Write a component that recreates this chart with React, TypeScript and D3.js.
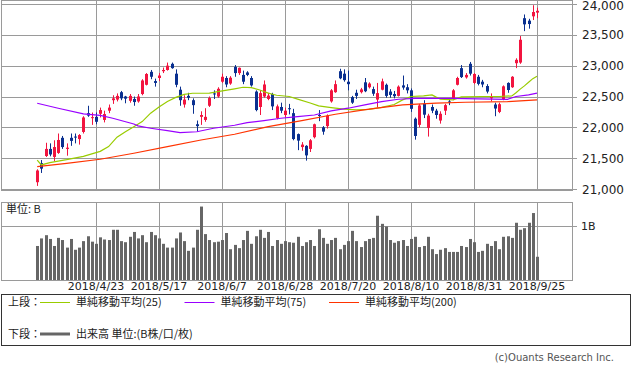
import React from 'react'
import * as d3 from 'd3'

// 2018/4/3 .. 2018/9/25, daily candles (index 0..119)
const opens = [
  21110, 21420, 21535, 21650, 21520, 21585, 21830, 21650, 21830, 21850,
  21810, 21925, 22230, 22150, 22170, 22220, 22120, 22270, 22440, 22450,
  22570, 22500, 22430, 22460, 22420, 22540, 22690, 22900, 22750, 22800,
  22910, 22930, 23030, 22870, 22610, 22370, 22510, 22440, 22050, 22170,
  22120, 22350, 22550, 22500, 22740, 22800, 22710, 22980, 22880, 22850,
  22890, 22800, 22580, 22330, 22500, 22460, 22540, 22150, 22330, 22200,
  22310, 22230, 21890, 21680, 21700, 21650, 21840, 22200, 22000, 22020,
  22420, 22570, 22910, 22870, 22740, 22490, 22560, 22570, 22730, 22650,
  22620, 22450, 22610, 22690, 22580, 22540, 22510, 22680, 22650, 22600,
  22140, 22040, 22380, 21990, 22330, 22270, 22110, 22270, 22420, 22470,
  22690, 22960, 22810, 23030, 22720, 22820, 22740, 22670, 22470, 22370,
  22250, 22460, 22720, 22650, 23040, 23050, 23770, 23730, 23800, 23860,
]
const highs = [
  21320, 21470, 21750, 21740, 21790, 21900, 21860, 21740, 21900, 21900,
  21890, 22180, 22350, 22240, 22240, 22320, 22270, 22370, 22520, 22550,
  22590, 22510, 22540, 22500, 22540, 22780, 22880, 22930, 22790, 22880,
  22970, 23050, 23050, 22940, 22660, 22520, 22560, 22470, 22110, 22260,
  22310, 22500, 22600, 22650, 22870, 22830, 22830, 23010, 22970, 22920,
  22910, 22830, 22600, 22600, 22760, 22560, 22560, 22370, 22400, 22320,
  22380, 22300, 21900, 21760, 21710, 21810, 22060, 22280, 22020, 22210,
  22620, 22760, 22950, 22940, 22920, 22510, 22610, 22640, 22800, 22730,
  22660, 22720, 22790, 22710, 22620, 22590, 22680, 22840, 22700, 22630,
  22160, 22380, 22440, 22220, 22370, 22300, 22260, 22380, 22470, 22620,
  22820, 23010, 22880, 23060, 22880, 22850, 22770, 22700, 22550, 22400,
  22400, 22680, 22730, 22830, 23120, 23480, 23830, 23760, 23980, 23940,
]
const lows = [
  21050, 21260, 21520, 21530, 21450, 21570, 21650, 21540, 21700, 21740,
  21720, 21900, 22170, 22040, 22050, 22160, 22080, 22230, 22380, 22420,
  22440, 22390, 22400, 22350, 22400, 22520, 22680, 22780, 22660, 22750,
  22880, 22920, 22950, 22650, 22350, 22320, 22440, 22220, 21930, 22040,
  22090, 22330, 22460, 22480, 22720, 22650, 22690, 22820, 22850, 22700,
  22830, 22660, 22260, 22200, 22480, 22440, 22280, 22130, 22230, 22160,
  22210, 21790, 21630, 21620, 21460, 21600, 21820, 22100, 21880, 21980,
  22400, 22560, 22780, 22740, 22600, 22380, 22460, 22550, 22570, 22630,
  22510, 22320, 22600, 22480, 22480, 22470, 22500, 22610, 22550, 22250,
  21800, 22000, 22150, 21850, 22230, 22140, 22060, 22200, 22360, 22440,
  22680, 22800, 22790, 22840, 22700, 22680, 22650, 22550, 22420, 22180,
  22230, 22440, 22560, 22640, 22960, 23030, 23560, 23600, 23740, 23770,
]
const closes = [
  21300, 21330, 21650, 21560, 21680, 21795, 21680, 21670, 21780, 21840,
  21875, 22160, 22190, 22165, 22090, 22280, 22215, 22320, 22470, 22510,
  22470, 22465, 22510, 22410, 22500, 22760, 22865, 22820, 22720, 22840,
  22930, 23000, 22960, 22690, 22440, 22450, 22480, 22360, 22020, 22200,
  22170, 22475, 22540, 22625, 22820, 22695, 22805, 22880, 22965, 22740,
  22850, 22680, 22280, 22555, 22695, 22515, 22340, 22340, 22270, 22270,
  22305, 21810, 21785, 21720, 21545, 21790, 22050, 22195, 21930, 22190,
  22600, 22700, 22795, 22765, 22700, 22400, 22510, 22615, 22585, 22710,
  22545, 22555, 22745, 22510, 22525, 22505, 22660, 22645, 22600, 22300,
  21860, 22355, 22205, 22190, 22270, 22200, 22220, 22360, 22410, 22600,
  22800, 22815, 22850, 22870, 22865, 22705, 22695, 22580, 22490, 22305,
  22375, 22665, 22605, 22820, 23095, 23420, 23670, 23675, 23870, 23890,
]
// 出来高 (B株)
const volumes = [
  0.63, 0.77, 0.83, 0.76, 0.63, 0.78, 0.74, 0.60, 0.76, 0.56,
  0.60, 0.72, 0.81, 0.71, 0.67, 0.79, 0.75, 0.74, 0.93, 0.93,
  0.72, 0.70, 0.80, 0.89, 0.77, 0.83, 0.70, 0.89, 0.83, 0.77,
  0.67, 0.60, 0.60, 0.77, 0.88, 0.72, 0.54, 0.60, 0.93, 1.36,
  0.85, 0.74, 0.70, 0.71, 0.74, 0.87, 0.57, 0.65, 0.59, 0.74,
  0.91, 0.67, 0.81, 0.93, 0.78, 0.89, 0.63, 0.74, 0.67, 0.72,
  0.70, 0.69, 0.80, 0.63, 0.70, 0.74, 0.63, 0.94, 0.78, 0.67,
  0.74, 0.78, 0.57, 0.65, 0.72, 0.91, 0.72, 0.61, 0.72, 0.76,
  0.78, 1.19, 1.04, 0.99, 0.74, 0.69, 0.72, 0.74, 0.63, 0.76,
  0.80, 0.61, 0.63, 0.80, 0.57, 0.48, 0.56, 0.59, 0.52, 0.52,
  0.52, 0.63, 0.61, 0.76, 0.70, 0.52, 0.54, 0.67, 0.63, 0.72,
  0.57, 0.80, 0.81, 0.78, 1.06, 0.93, 0.96, 1.06, 1.24, 0.43,
]

// moving averages at selected candle indices
const ma25Idx = [0, 1, 3, 7, 11, 15, 17, 19, 21, 23, 25, 27, 29, 31, 33, 35, 37, 41, 43, 47, 49, 51, 53, 55, 57, 60, 62, 65, 67, 70, 73, 76, 79, 82, 85, 87, 89, 92, 94, 95, 96, 99, 101, 106, 110, 113, 114, 115, 116, 117, 118, 119]
const ma25Val = [21470, 21390, 21427, 21475, 21530, 21610, 21687, 21840, 21930, 22010, 22093, 22230, 22330, 22420, 22485, 22535, 22553, 22555, 22580, 22625, 22650, 22645, 22605, 22555, 22520, 22500, 22457, 22395, 22347, 22320, 22294, 22282, 22290, 22325, 22370, 22445, 22500, 22510, 22526, 22490, 22456, 22445, 22494, 22500, 22500, 22510, 22560, 22620, 22672, 22730, 22790, 22830]
const ma75Idx = [0, 5, 11, 15, 18, 23, 24, 27, 31, 34, 38, 42, 47, 50, 54, 58, 62, 66, 70, 74, 78, 82, 86, 90, 99, 105, 112, 114, 117, 119]
const ma75Val = [22390, 22310, 22218, 22195, 22147, 22055, 22023, 21985, 21947, 21915, 21928, 21985, 22034, 22076, 22109, 22147, 22174, 22200, 22266, 22310, 22364, 22417, 22455, 22471, 22471, 22460, 22455, 22500, 22526, 22555]
const ma200Idx = [0, 7, 15, 23, 31, 39, 47, 55, 63, 71, 79, 87, 95, 102, 112, 119]
const ma200Val = [21362, 21417, 21482, 21580, 21687, 21795, 21888, 22011, 22109, 22212, 22294, 22364, 22391, 22407, 22417, 22445]

const tickIdx = [14, 29, 44, 59, 74, 89, 104, 119]
const tickLabels = ['2018/4/23', '2018/5/17', '2018/6/7', '2018/6/28', '2018/7/20', '2018/8/10', '2018/8/31', '2018/9/25']
const priceTicks = [21000, 21500, 22000, 22500, 23000, 23500, 24000]

const UP = '#f2143f'
const DOWN = '#0a3090'
const GRID = '#9a9a9a'
const NUM_FONT = '"DejaVu Sans", sans-serif'
const JP_FONT = '"Noto Sans CJK JP", sans-serif'

const App: React.FC = () => {
  const width = 633
  const height = 370
  const left = 1
  const right = 572

  const x = d3.scaleLinear().domain([0, 119]).range([37.2, 537])
  const y = d3.scaleLinear().domain([21000, 24000]).range([189, 4])
  const yv = d3.scaleLinear().domain([0, 1]).range([280, 226])

  const px = (i: number) => Math.round(x(i)) + 0.5
  const fmt = d3.format(',')

  const maLine = (idx: number[], vals: number[]) =>
    d3.line<number>()
      .x((_, k) => x(idx[k]))
      .y(d => y(d))(vals) || ''

  const mas = [
    { idx: ma25Idx, val: ma25Val, color: '#99cc00', label: '単純移動平均(25)' },
    { idx: ma75Idx, val: ma75Val, color: '#9900ff', label: '単純移動平均(75)' },
    { idx: ma200Idx, val: ma200Val, color: '#ff3300', label: '単純移動平均(200)' },
  ]

  return (
    <div style={{ position: 'absolute', left: 0, top: 0 }}>
      <svg width={width} height={height} style={{ display: 'block', background: '#fff' }}>
        {/* price panel */}
        <rect x={left + 0.5} y={0.5} width={right - left} height={190} fill="none" stroke={GRID} />
        {priceTicks.map(p => (
          <g key={p}>
            <line x1={left} x2={right + 5} y1={Math.round(y(p)) + 0.5} y2={Math.round(y(p)) + 0.5} stroke={GRID} strokeWidth={1} />
            <text x={582} y={Math.max(10, y(p) + 4.5)} fontSize={12} fontFamily={NUM_FONT} fill="#222">{fmt(p)}</text>
          </g>
        ))}
        {tickIdx.map(i => (
          <line key={i} x1={px(i)} x2={px(i)} y1={0} y2={191} stroke={GRID} />
        ))}
        <line x1={left} x2={right} y1={190.5} y2={190.5} stroke={GRID} />

        {/* candles */}
        {closes.map((c, i) => {
          const o = opens[i]
          const col = c >= o ? UP : DOWN
          const top = y(Math.max(o, c))
          const h = Math.max(1, y(Math.min(o, c)) - top)
          return (
            <g key={i}>
              <line x1={px(i)} x2={px(i)} y1={y(highs[i])} y2={y(lows[i])} stroke={col} strokeWidth={1} />
              <rect x={px(i) - 1.5} y={top} width={3} height={h} fill={col} />
            </g>
          )
        })}

        {/* moving averages */}
        {mas.map(m => (
          <path key={m.label} d={maLine(m.idx, m.val)} fill="none" stroke={m.color} strokeWidth={1.2} />
        ))}

        {/* volume panel */}
        <rect x={left + 0.5} y={202.5} width={right - left} height={78} fill="none" stroke={GRID} />
        <line x1={left} x2={right + 5} y1={Math.round(yv(1)) + 0.5} y2={Math.round(yv(1)) + 0.5} stroke={GRID} />
        {tickIdx.map(i => (
          <line key={i} x1={px(i)} x2={px(i)} y1={203} y2={280} stroke={GRID} />
        ))}
        {volumes.map((v, i) => (
          <rect key={i} x={Math.round(x(i)) - 1} y={yv(v)} width={3} height={yv(0) - yv(v)} fill="#666" />
        ))}
        <text x={6} y={213} fontSize={11} fontFamily={JP_FONT} fill="#222">単位: B</text>
        <text x={581} y={230} fontSize={11} fontFamily={NUM_FONT} fill="#222">1B</text>

        {tickIdx.map((i, k) => (
          <text key={i} x={x(i)} y={290} fontSize={11} fontFamily={NUM_FONT} textAnchor="middle" fill="#222">{tickLabels[k]}</text>
        ))}

        {/* legend */}
        <rect x={1.5} y={294.5} width={629} height={51} fill="none" stroke="#333" />
        <text x={8} y={306} fontSize={11} fontFamily={JP_FONT} fill="#222">上段：</text>
        {mas.map((m, k) => {
          const lx = 40 + k * 144.5
          return (
            <g key={m.label}>
              <line x1={lx} x2={lx + 30} y1={302.5} y2={302.5} stroke={m.color} strokeWidth={1} />
              <text x={lx + 36} y={306} fontSize={11} fontFamily={JP_FONT} fill="#222">{m.label}</text>
            </g>
          )
        })}
        <text x={8} y={338} fontSize={11} fontFamily={JP_FONT} fill="#222">下段：</text>
        <line x1={40} x2={70} y1={334} y2={334} stroke="#666" strokeWidth={3} />
        <text x={76} y={338} fontSize={11} fontFamily={JP_FONT} fill="#222">出来高 単位:(B株/口/枚)</text>

        <text x={614} y={361} fontSize={10} fontFamily={NUM_FONT} textAnchor="end" fill="#555">(c)Ouants Research Inc.</text>
      </svg>
    </div>
  )
}

export default App
